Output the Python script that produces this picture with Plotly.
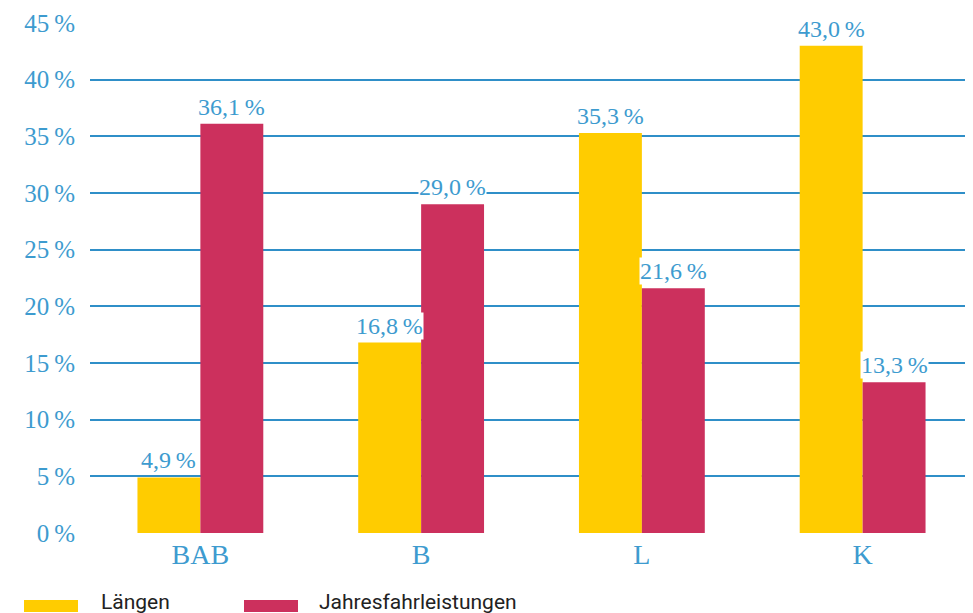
import plotly.graph_objects as go

categories = ["BAB", "B", "L", "K"]
laengen = [4.9, 16.8, 35.3, 43.0]
jahres = [36.1, 29.0, 21.6, 13.3]
series_names = ["Längen", "Jahresfahrleistungen"]
y_ticks = [0, 5, 10, 15, 20, 25, 30, 35, 40, 45]
y_ticktext = [f"{v}\u2009%" for v in y_ticks]

YELLOW = "#FFCC00"
RED = "#CC305D"
BLUE_TXT = "#3D9BCF"
GRID = "#2F8FC8"
SERIF = "Liberation Serif"
BARGAP = 0.43

# figure sits at an 8px body offset inside the page
W, H = 965, 605
L, R, T, B = 82, 0, 15, 80
PW, PH = W - L - R, H - T - B

def fmt(v):
    return f"{v:.1f}".replace(".", ",") + "\u2009%"

fig = go.Figure()
fig.add_trace(go.Bar(x=categories, y=laengen, name=series_names[0],
                     marker=dict(color=YELLOW, line=dict(width=0)), showlegend=False))
fig.add_trace(go.Bar(x=categories, y=jahres, name=series_names[1],
                     marker=dict(color=RED, line=dict(width=0)), showlegend=False))

off = (1 - BARGAP) / 4
for i, (a, b) in enumerate(zip(laengen, jahres)):
    for dx, v in ((-off, a), (off, b)):
        fig.add_annotation(x=i + dx, y=v, xref="x", yref="y", text=fmt(v),
                           showarrow=False, yanchor="bottom", yshift=3,
                           bgcolor="white", borderpad=0,
                           font=dict(family=SERIF, size=24, color=BLUE_TXT))

# legend drawn manually (page pixel positions converted to paper coords)
def px(x):
    return (x - 8 - L) / PW

def py(y):
    return (H - B - (y - 8)) / PH

leg = [(series_names[0], YELLOW, 24, 101), (series_names[1], RED, 244, 319)]
for name, col, x0, tx in leg:
    fig.add_shape(type="rect", xref="paper", yref="paper",
                  x0=px(x0), x1=px(x0 + 54), y0=py(600), y1=py(612),
                  fillcolor=col, line=dict(width=0), layer="above")
    fig.add_annotation(xref="paper", yref="paper", x=px(tx - 2),
                       y=py(602), text=name, showarrow=False,
                       xanchor="left", yanchor="middle",
                       font=dict(family="Roboto", size=21, color="#222222"))

fig.update_layout(
    width=W, height=H,
    margin=dict(l=L, r=R, t=T, b=B),
    paper_bgcolor="white", plot_bgcolor="white",
    bargap=BARGAP, bargroupgap=0, barmode="group",
    xaxis=dict(range=[-0.5, 3.5], showgrid=False, showline=False, zeroline=False,
               tickfont=dict(family=SERIF, size=28, color=BLUE_TXT), ticks="",
               ticklabelstandoff=2),
    yaxis=dict(range=[0, 45], tickvals=y_ticks, ticktext=y_ticktext,
               showgrid=True, gridcolor=GRID, gridwidth=1.5, zeroline=False,
               showline=False, ticks="", ticklabelstandoff=14,
               tickfont=dict(family=SERIF, size=25, color=BLUE_TXT)),
)

fig.write_html("out.html")
